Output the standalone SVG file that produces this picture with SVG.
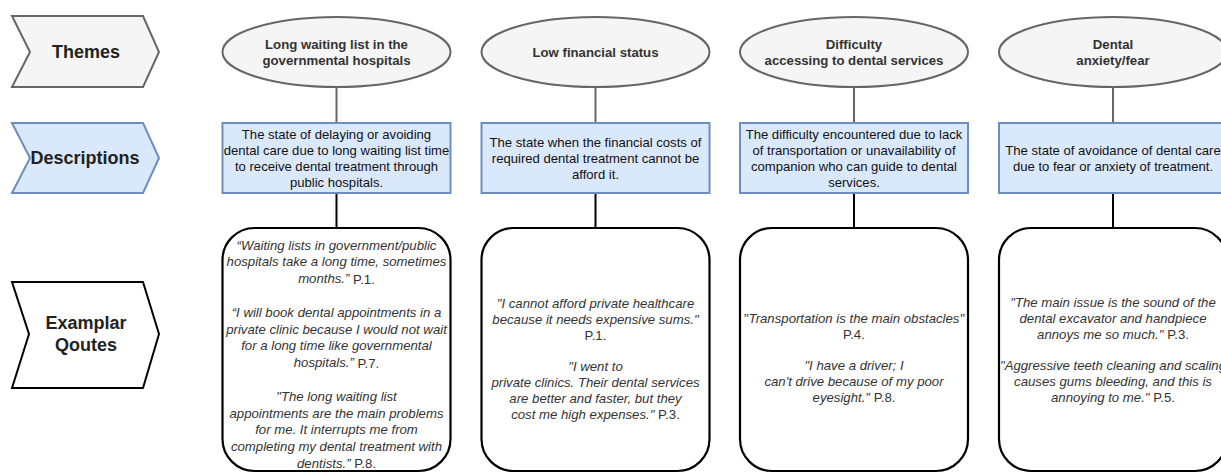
<svg xmlns="http://www.w3.org/2000/svg" width="1221" height="473" viewBox="0 0 1221 473">
<style>
text{font-family:"Liberation Sans",Arial,sans-serif;text-anchor:middle;dominant-baseline:central}
.lab{font-size:18px;font-weight:bold;fill:#222}
.th{fill:#f5f5f5;stroke:#666;stroke-width:2}
.ds{fill:#dae8fc;stroke:#6c8ebf;stroke-width:2}
.qt{fill:#fff;stroke:#000;stroke-width:2.2}
.tt{font-size:13.2px;font-weight:bold;fill:#333}
.dt{font-size:13.1px;fill:#111}
.q{font-size:13.2px;fill:#333;font-style:italic}
.n{font-style:normal}
.c1{stroke:#666;stroke-width:2}
.c2{stroke:#000;stroke-width:2}
</style>
<g id="label-themes">
<polygon class="th" points="12,16 143,16 159,52 143,87 12,87 30,52"/>
<text class="lab" x="86" y="52">Themes</text>
</g>
<g id="label-descriptions">
<polygon class="ds" points="12,123 143,123 159,158 143,193 12,193 30,158"/>
<text class="lab" x="85" y="158">Descriptions</text>
</g>
<g id="label-quotes">
<polygon fill="#fff" stroke="#000" stroke-width="2" points="12,282 143,282 159,334 143,388 12,388 29,334"/>
<text class="lab" x="86" y="323">Examplar</text>
<text class="lab" x="86" y="345">Qoutes</text>
</g>
<g id="connectors">
<line class="c1" x1="336.5" y1="87" x2="336.5" y2="123"/>
<line class="c1" x1="595.5" y1="87" x2="595.5" y2="123"/>
<line class="c1" x1="854" y1="87" x2="854" y2="123"/>
<line class="c1" x1="1113" y1="87" x2="1113" y2="123"/>
<line class="c2" x1="336.5" y1="193" x2="336.5" y2="228"/>
<line class="c2" x1="595.5" y1="193" x2="595.5" y2="228"/>
<line class="c2" x1="854" y1="193" x2="854" y2="228"/>
<line class="c2" x1="1113" y1="193" x2="1113" y2="228"/>
</g>
<g id="theme1">
<ellipse class="th" cx="336.5" cy="52" rx="114" ry="35"/>
<text class="tt" x="336.5" y="44">Long waiting list in the</text>
<text class="tt" x="336.5" y="60">governmental hospitals</text>
</g>
<g id="theme2">
<ellipse class="th" cx="595.5" cy="52" rx="114" ry="35"/>
<text class="tt" x="595.5" y="52">Low financial status</text>
</g>
<g id="theme3">
<ellipse class="th" cx="854" cy="52" rx="114" ry="35"/>
<text class="tt" x="854" y="44">Difficulty</text>
<text class="tt" x="854" y="60">accessing to dental services</text>
</g>
<g id="theme4">
<ellipse class="th" cx="1113" cy="52" rx="114" ry="35"/>
<text class="tt" x="1113" y="44">Dental</text>
<text class="tt" x="1113" y="60">anxiety/fear</text>
</g>
<g id="desc1">
<rect class="ds" x="222.5" y="123" width="228" height="70"/>
<text class="dt" x="336.5" y="134">The state of delaying or avoiding</text>
<text class="dt" x="336.5" y="150">dental care due to long waiting list time</text>
<text class="dt" x="336.5" y="166">to receive dental treatment through</text>
<text class="dt" x="336.5" y="182">public hospitals.</text>
</g>
<g id="desc2">
<rect class="ds" x="481.5" y="123" width="228" height="70"/>
<text class="dt" x="595.5" y="142">The state when the financial costs of</text>
<text class="dt" x="595.5" y="158">required dental treatment cannot be</text>
<text class="dt" x="595.5" y="174">afford it.</text>
</g>
<g id="desc3">
<rect class="ds" x="740" y="123" width="228" height="70"/>
<text class="dt" x="854" y="134">The difficulty encountered due to lack</text>
<text class="dt" x="854" y="150">of transportation or unavailability of</text>
<text class="dt" x="854" y="166">companion who can guide to dental</text>
<text class="dt" x="854" y="182">services.</text>
</g>
<g id="desc4">
<rect class="ds" x="999" y="123" width="228" height="70"/>
<text class="dt" x="1113" y="150">The state of avoidance of dental care</text>
<text class="dt" x="1113" y="166">due to fear or anxiety of treatment.</text>
</g>
<g id="quotes1">
<rect class="qt" x="222.5" y="228" width="228" height="243" rx="32" ry="32"/>
<text class="q" x="336.5" y="245">“Waiting lists in government/public</text>
<text class="q" x="336.5" y="261.8">hospitals take a long time, sometimes</text>
<text class="q" x="336.5" y="278.6">months.” <tspan class="n">P.1.</tspan></text>
<text class="q" x="336.5" y="312.2">“I will book dental appointments in a</text>
<text class="q" x="336.5" y="329">private clinic because I would not wait</text>
<text class="q" x="336.5" y="345.8">for a long time like governmental</text>
<text class="q" x="336.5" y="362.6">hospitals.” <tspan class="n">P.7.</tspan></text>
<text class="q" x="336.5" y="396.2">"The long waiting list</text>
<text class="q" x="336.5" y="413">appointments are the main problems</text>
<text class="q" x="336.5" y="429.8">for me. It interrupts me from</text>
<text class="q" x="336.5" y="446.6">completing my dental treatment with</text>
<text class="q" x="336.5" y="463">dentists.” <tspan class="n">P.8.</tspan></text>
</g>
<g id="quotes2">
<rect class="qt" x="481.5" y="228" width="228" height="243" rx="32" ry="32"/>
<text class="q" x="595.5" y="303">"I cannot afford private healthcare</text>
<text class="q" x="595.5" y="319">because it needs expensive sums."</text>
<text class="q n" x="595.5" y="335">P.1.</text>
<text class="q" x="595.5" y="366">"I went to</text>
<text class="q" x="595.5" y="382">private clinics. Their dental services</text>
<text class="q" x="595.5" y="398">are better and faster, but they</text>
<text class="q" x="595.5" y="414">cost me high expenses." <tspan class="n">P.3.</tspan></text>
</g>
<g id="quotes3">
<rect class="qt" x="740" y="228" width="228" height="243" rx="32" ry="32"/>
<text class="q" x="854" y="318"><tspan class="n">"</tspan>Transportation is the main obstacles"</text>
<text class="q n" x="854" y="334">P.4.</text>
<text class="q" x="854" y="365">"I have a driver; I</text>
<text class="q" x="854" y="381">can't drive because of my poor</text>
<text class="q" x="854" y="397">eyesight." <tspan class="n">P.8.</tspan></text>
</g>
<g id="quotes4">
<rect class="qt" x="999" y="228" width="228" height="243" rx="32" ry="32"/>
<text class="q" x="1113" y="302">"The main issue is the sound of the</text>
<text class="q" x="1113" y="318">dental excavator and handpiece</text>
<text class="q" x="1113" y="334">annoys me so much." <tspan class="n">P.3.</tspan></text>
<text class="q" x="1113" y="365">"Aggressive teeth cleaning and scaling</text>
<text class="q" x="1113" y="381">causes gums bleeding, and this is</text>
<text class="q" x="1113" y="397">annoying to me." <tspan class="n">P.5.</tspan></text>
</g>
</svg>
